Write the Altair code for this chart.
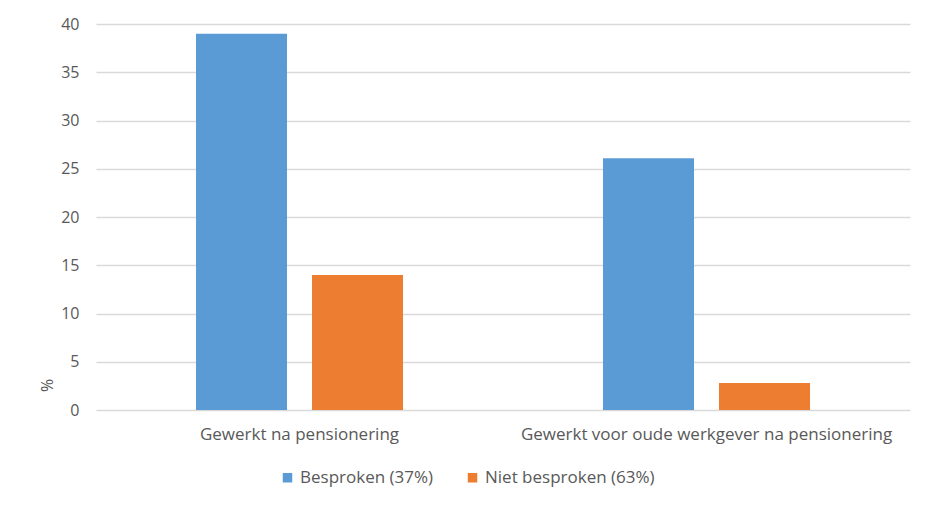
import altair as alt
import pandas as pd

categories = ["Gewerkt na pensionering", "Gewerkt voor oude werkgever na pensionering"]
series = ["Besproken (37%)", "Niet besproken (63%)"]
besproken = [39.0, 26.1]
niet_besproken = [14.0, 2.8]
colors = ["#5B9BD5", "#ED7D31"]

rows = []
for c, b, n in zip(categories, besproken, niet_besproken):
    rows.append({"cat": c, "serie": series[0], "val": b})
    rows.append({"cat": c, "serie": series[1], "val": n})
df = pd.DataFrame(rows)

font = "Open Sans"
fs = 17

chart = alt.Chart(df).mark_bar().encode(
    x=alt.X("cat:N", sort=categories, title=None,
            scale=alt.Scale(paddingInner=0, paddingOuter=0),
            axis=alt.Axis(labelAngle=0, domain=False, ticks=False, labelPadding=16, labelLimit=1000,
                          labelFontSize=fs, labelColor="#595959", labelFont=font, grid=False)),
    xOffset=alt.XOffset("serie:N", sort=series,
                        scale=alt.Scale(paddingInner=0.2155, paddingOuter=0.862)),
    y=alt.Y("val:Q", title="%",
            scale=alt.Scale(domain=[0, 40], nice=False),
            axis=alt.Axis(values=[0, 5, 10, 15, 20, 25, 30, 35, 40], domain=False, ticks=False,
                          labelPadding=17, labelFontSize=16, labelColor="#595959", labelFont=font,
                          gridColor="#D9D9D9", gridWidth=1.3,
                          titleAngle=270, titleFontSize=16, titleAlign="center", titleBaseline="middle",
                          titleFontWeight="normal", titleColor="#595959", titleFont=font,
                          titleX=-49, titleY=361)),
    color=alt.Color("serie:N", sort=series, title=None,
                    scale=alt.Scale(domain=series, range=colors),
                    legend=alt.Legend(orient="none", direction="horizontal", legendX=183, legendY=445,
                                      symbolType="square", symbolSize=90, symbolStrokeWidth=0,
                                      labelFontSize=fs, labelColor="#595959", labelFont=font,
                                      labelLimit=1000, columnPadding=30, labelOffset=4)),
).properties(
    width=814, height=386,
    autosize=alt.AutoSizeParams(type="none"),
    padding={"left": 88, "top": 16, "right": 12, "bottom": 84},
).configure_view(stroke=None)

chart.save("out.html", embed_options={"renderer": "svg", "actions": False})
